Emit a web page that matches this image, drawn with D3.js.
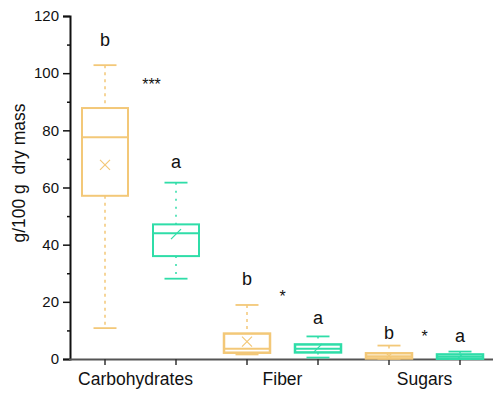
<!DOCTYPE html>
<html>
<head>
<meta charset="utf-8">
<script src="https://cdn.jsdelivr.net/npm/d3@7"></script>
<style>
  body { margin: 0; background: #fff; }
  text { font-family: "Liberation Sans", Arial, sans-serif; fill: #111; }
</style>
</head>
<body>
<div id="chart"></div>
<script>
// categories and the two groups (orange, green)
const categories = ["Carbohydrates", "Fiber", "Sugars"];
const groups = ["g1", "g2"];

// box stats, one row per category, [orange, green]
const whiskerLow  = [[10.8, 28.1], [1.6, 0.5], [0.1, 0.0]];
const q1          = [[57.1, 36.0], [2.2, 2.3], [0.2, 0.1]];
const median      = [[77.6, 44.0], [3.6, 3.6], [1.0, 0.8]];
const q3          = [[87.8, 47.1], [8.9, 5.1], [2.0, 1.6]];
const whiskerHigh = [[102.8, 61.7], [18.9, 7.9], [4.7, 2.6]];
const means       = [[67.9, 43.7], [6.1, 3.9], [1.1, 0.9]];

// letters above each box and the star level between the pair
const letters = [["b", "a"], ["b", "a"], ["b", "a"]];
const letterAt = [[111.6, 68.9], [28.0, 14.4], [9.1, 8.0]];
const stars = ["***", "*", "*"];
const starAt = [97.4, 23.1, 9.1];

const yTicks = [0, 20, 40, 60, 80, 100, 120];
const colors = { g1: "#F3C878", g2: "#2FDDA8" };

const W = 493, H = 394;
const svg = d3.select("#chart").append("svg").attr("width", W).attr("height", H);

const y = d3.scaleLinear().domain([0, 120]).range([359, 16]);
const x = d3.scaleBand().domain(categories).range([69.5, 495.5]);
const xg = d3.scaleBand().domain(groups).range([0, x.bandwidth()]);
const boxW = 46;

// y axis
const yAxis = svg.append("g").attr("transform", "translate(70,0)")
  .call(d3.axisLeft(y).tickValues(yTicks).tickSize(7).tickPadding(4));
yAxis.select(".domain").attr("stroke", "#111").attr("stroke-width", 2);
yAxis.selectAll(".tick line").attr("stroke", "#111").attr("stroke-width", 1.5);
yAxis.selectAll(".tick text").attr("font-size", 15).attr("fill", "#111")
  .style("font-family", "'Liberation Sans', Arial, sans-serif");
svg.append("g").attr("transform", "translate(70,0)")
  .call(d3.axisLeft(y).tickValues(d3.range(10, 120, 20)).tickSize(3).tickFormat(""))
  .call(g => g.select(".domain").remove())
  .selectAll(".tick line").attr("stroke", "#111").attr("stroke-width", 1.5);

// x axis
svg.append("line").attr("x1", 69).attr("x2", W).attr("y1", y(0) + 0.5).attr("y2", y(0) + 0.5)
  .attr("stroke", "#555").attr("stroke-width", 2);

svg.append("text")
  .attr("transform", `translate(25,173) rotate(-90)`)
  .attr("text-anchor", "middle").attr("font-size", 17.5)
  .style("white-space", "pre")
  .text("g/100 g\u00A0 dry mass");

categories.forEach((cat, i) => {
  svg.append("text")
    .attr("x", x(cat) + x.bandwidth() / 2 - (i === 0 ? 5 : 0)).attr("y", 385)
    .attr("text-anchor", "middle").attr("font-size", 17.5).text(cat);

  svg.append("text")
    .attr("x", x(cat) + x.bandwidth() / 2 + (i === 0 ? 11 : 0)).attr("y", y(starAt[i]) + 9)
    .attr("text-anchor", "middle").attr("font-size", 16)
    .text(stars[i]);

  groups.forEach((grp, j) => {
    const cx = x(cat) + xg(grp) + xg.bandwidth() / 2;
    const col = colors[grp];
    const g = svg.append("g");

    // tick on x axis
    g.append("line").attr("x1", cx).attr("x2", cx).attr("y1", y(0)).attr("y2", y(0) + 6)
      .attr("stroke", "#333").attr("stroke-width", 1.5);

    // whiskers
    g.append("line").attr("x1", cx).attr("x2", cx)
      .attr("y1", y(whiskerHigh[i][j])).attr("y2", y(q3[i][j]))
      .attr("stroke", col).attr("stroke-width", 1.5).attr("stroke-dasharray", j === 0 ? "3,4" : "2,6");
    g.append("line").attr("x1", cx).attr("x2", cx)
      .attr("y1", y(q1[i][j])).attr("y2", y(whiskerLow[i][j]))
      .attr("stroke", col).attr("stroke-width", 1.5).attr("stroke-dasharray", j === 0 ? "3,4" : "2,6");
    [whiskerHigh[i][j], whiskerLow[i][j]].forEach(v => {
      g.append("line").attr("x1", cx - 11.5).attr("x2", cx + 11.5)
        .attr("y1", y(v)).attr("y2", y(v)).attr("stroke", col).attr("stroke-width", 1.8);
    });

    // box
    g.append("rect").attr("x", cx - boxW / 2).attr("y", y(q3[i][j]))
      .attr("width", boxW).attr("height", Math.max(1, y(q1[i][j]) - y(q3[i][j])))
      .attr("fill", "none").attr("stroke", col).attr("stroke-width", i === 0 ? 2 : 2.5);
    g.append("line").attr("x1", cx - boxW / 2).attr("x2", cx + boxW / 2)
      .attr("y1", y(median[i][j])).attr("y2", y(median[i][j]))
      .attr("stroke", col).attr("stroke-width", 2);

    // mean marker (orange as a cross, green shows as a slash)
    const my = y(means[i][j]), s = i === 0 ? 5 : Math.min(5, Math.max(2, (y(q1[i][j]) - y(q3[i][j])) / 2));
    const d = j === 0
      ? `M${cx - s},${my - s}L${cx + s},${my + s}M${cx - s},${my + s}L${cx + s},${my - s}`
      : `M${cx - s},${my + s}L${cx + s},${my - s}`;
    g.append("path").attr("d", d)
      .attr("stroke", col).attr("stroke-width", 1.2).attr("fill", "none");

    // letter
    svg.append("text").attr("x", cx).attr("y", y(letterAt[i][j]))
      .attr("dy", "0.35em").attr("text-anchor", "middle").attr("font-size", 18).text(letters[i][j]);
  });
});
</script>
</body>
</html>
